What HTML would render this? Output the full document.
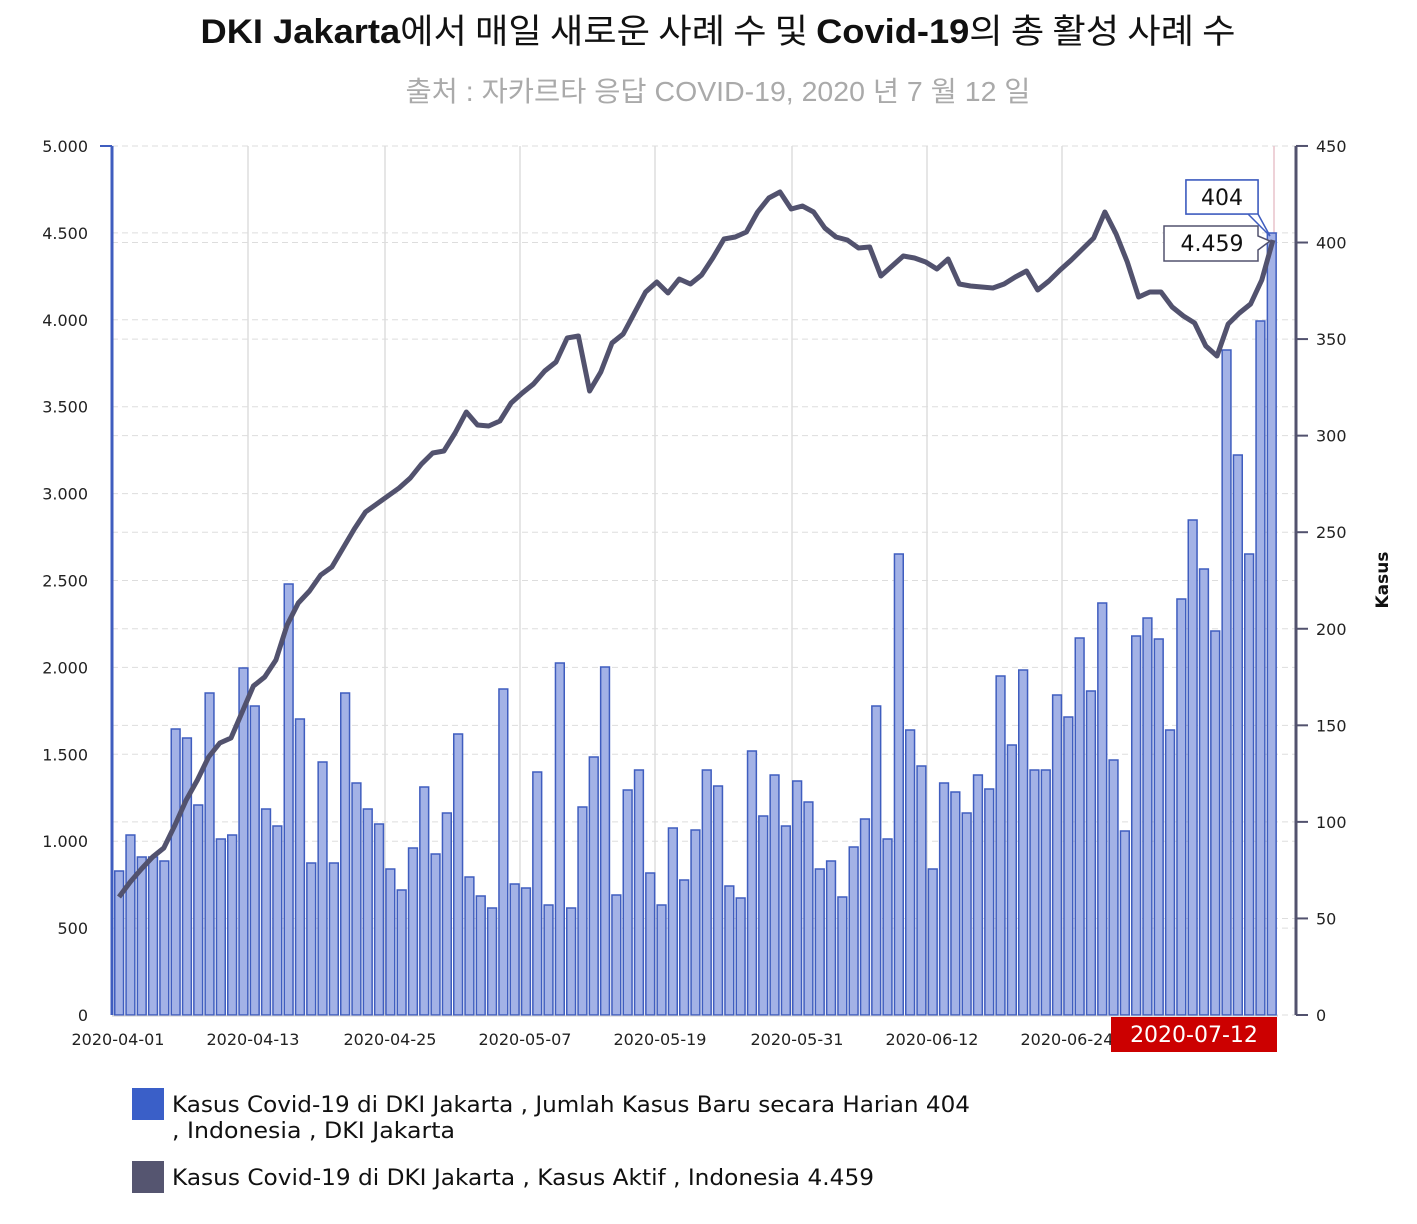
<!DOCTYPE html>
<html><head><meta charset="utf-8">
<style>
html,body{margin:0;padding:0;background:#fff;}
body{width:1417px;height:1220px;overflow:hidden;font-family:"DejaVu Sans","Liberation Sans","Noto Sans CJK KR",sans-serif;}
</style></head><body>
<svg id="s" width="1417" height="1220" xmlns="http://www.w3.org/2000/svg" font-family="'DejaVu Sans','Liberation Sans','Noto Sans CJK KR',sans-serif">
<text x="718" y="43" text-anchor="middle" font-size="34" fill="#111" textLength="1035" lengthAdjust="spacingAndGlyphs"><tspan font-weight="bold" font-family="'Liberation Sans',sans-serif">DKI Jakarta</tspan><tspan font-family="'Noto Sans CJK KR',sans-serif">에서 매일 새로운 사례 수 및 </tspan><tspan font-weight="bold" font-family="'Liberation Sans',sans-serif">Covid-19</tspan><tspan font-family="'Noto Sans CJK KR',sans-serif">의 총 활성 사례 수</tspan></text>
<text x="718" y="101" text-anchor="middle" font-size="28" fill="#aaa" font-family="'Liberation Sans','Noto Sans CJK KR',sans-serif" textLength="625" lengthAdjust="spacingAndGlyphs">출처 : 자카르타 응답 COVID-19, 2020 년 7 월 12 일</text>
<g id="g"></g>
</svg>
<script>
var g=document.getElementById('g'),h='';
var T=146,B=1015,L=112,R=1296;
for(var i=0;i<=10;i++){var y=B-i*86.9;h+='<line x1="'+L+'" x2="'+R+'" y1="'+y+'" y2="'+y+'" stroke="#ddd" stroke-dasharray="6,4"/>';
h+='<text x="88" y="'+(y+6)+'" text-anchor="end" font-size="16" fill="#222">'+['0','500','1.000','1.500','2.000','2.500','3.000','3.500','4.000','4.500','5.000'][i]+'</text>';}
for(var i=0;i<=9;i++){var y=B-i*96.56;if(i>0)h+='<line x1="'+L+'" x2="'+R+'" y1="'+y+'" y2="'+y+'" stroke="#ddd" stroke-dasharray="6,4"/>';
h+='<text x="1316" y="'+(y+6)+'" font-size="16" fill="#222">'+(i*50)+'</text>';}
var vx=[248,385,520,655,792,927,1062];
vx.forEach(function(x){h+='<line x1="'+x+'" x2="'+x+'" y1="'+T+'" y2="'+B+'" stroke="#ddd" stroke-width="1.5"/>';});
h+='<line x1="1274" x2="1274" y1="'+T+'" y2="'+B+'" stroke="#e8c4cc" stroke-width="1.5"/>';
var bars=[871,835,857,857,861,729,738,805,693,839,835,668,706,809,826,584,719,863,762,863,693,783,809,824,869,890,848,787,854,813,734,877,896,908,689,884,888,772,905,663,908,807,757,667,895,790,770,873,905,828,880,830,770,786,886,898,751,816,775,826,781,802,869,861,897,847,819,706,839,554,730,766,869,783,792,813,775,789,676,745,670,770,770,695,717,638,691,603,760,831,636,618,639,730,599,520,569,631,350,455,554,321,233];
var p=11.3,x0=114;
bars.forEach(function(t,i){var x=x0+i*p;h+='<rect x="'+(x+0.75)+'" y="'+t+'" width="'+(p-2.5)+'" height="'+(B-t)+'" fill="#a3b2e6" stroke="#3f5dbf" stroke-width="1.5"/>';});
var ln=[897,882,869,857,848,825,800,780,757,743,738,712,686,677,660,625,603,591,575,567,548,529,512,504,496,488,478,464,453,451,433,412,425,426,421,403,393,384,371,362,338,336,391,372,343,334,313,292,282,293,279,284,275,258,239,237,232,212,198,192,209,206,212,228,237,240,248,247,276,266,256,258,262,269,259,284,286,287,288,284,277,271,290,281,270,260,249,238,212,234,262,297,292,292,307,316,323,346,356,324,313,304,280,240];
var n=ln.length,pts=[];
ln.forEach(function(y,i){pts.push((119+i*(1273-119)/(n-1)).toFixed(1)+','+y);});
h+='<polyline points="'+pts.join(' ')+'" fill="none" stroke="#52526e" stroke-width="5" stroke-linejoin="round"/>';
h+='<line x1="112" x2="112" y1="'+T+'" y2="'+B+'" stroke="#3f5dbf" stroke-width="3"/>';
h+='<line x1="1296" x2="1296" y1="'+T+'" y2="'+B+'" stroke="#52526e" stroke-width="3"/>';
for(var i=0;i<=9;i++){var y=B-i*96.56;h+='<line x1="1296" x2="1308" y1="'+y+'" y2="'+y+'" stroke="#52526e" stroke-width="2"/>';}
h+='<line x1="100" x2="112" y1="'+T+'" y2="'+T+'" stroke="#3f5dbf" stroke-width="2"/>';
h+='<line x1="112" x2="1278" y1="1016" y2="1016" stroke="#ccc"/>';
h+='<text x="1388" y="580" transform="rotate(-90 1388 580)" text-anchor="middle" font-size="17" font-weight="bold" fill="#111">Kasus</text>';
var lab=['2020-04-01','2020-04-13','2020-04-25','2020-05-07','2020-05-19','2020-05-31','2020-06-12','2020-06-24'];
var lx=[118,253,390,525,660,797,932,1067];
lab.forEach(function(t,i){h+='<text x="'+lx[i]+'" y="1045" text-anchor="middle" font-size="16" fill="#222">'+t+'</text>';});
h+='<rect x="1111" y="1017" width="166" height="35" fill="#cc0000"/><text x="1194" y="1042" text-anchor="middle" font-size="22" fill="#fff">2020-07-12</text>';
h+='<path d="M1186,180 H1258 V214 L1270,236 L1248,214 H1186 Z" fill="#fff" stroke="#3f5dbf" stroke-width="1.5"/>';
h+='<rect x="1186" y="180" width="72" height="34" fill="#fff" stroke="#3f5dbf" stroke-width="1.5"/><text x="1222" y="205" text-anchor="middle" font-size="22" fill="#111">404</text>';
h+='<path d="M1164,226 H1258 V236 L1270,241 L1258,250 V261 H1164 Z" fill="#fff" stroke="#52526e" stroke-width="1.5"/><text x="1212" y="251" text-anchor="middle" font-size="22" fill="#111">4.459</text>';
h+='<rect x="132" y="1088" width="32" height="32" fill="#3a5fc8"/><text x="172" y="1112" font-size="22" fill="#111" textLength="798" lengthAdjust="spacingAndGlyphs">Kasus Covid-19 di DKI Jakarta , Jumlah Kasus Baru secara Harian 404</text><text x="172" y="1138" font-size="22" fill="#111" textLength="283" lengthAdjust="spacingAndGlyphs">, Indonesia , DKI Jakarta</text>';
h+='<rect x="132" y="1161" width="32" height="32" fill="#555570"/><text x="172" y="1185" font-size="22" fill="#111" textLength="702" lengthAdjust="spacingAndGlyphs">Kasus Covid-19 di DKI Jakarta , Kasus Aktif , Indonesia 4.459</text>';
g.innerHTML=h;
</script>
</body></html>
